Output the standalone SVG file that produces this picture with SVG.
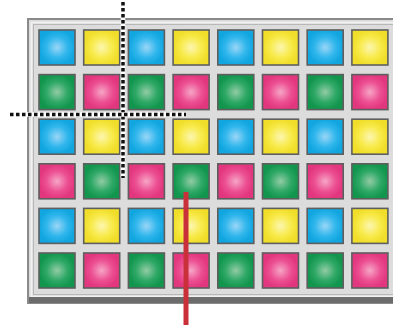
<svg xmlns="http://www.w3.org/2000/svg" width="393" height="330" viewBox="0 0 393 330">
<defs>
<radialGradient id="gB"><stop offset="0" stop-color="#9ad6f7"/><stop offset="0.6" stop-color="#2fb6ec"/><stop offset="1" stop-color="#12a6e0"/></radialGradient>
<radialGradient id="gY"><stop offset="0" stop-color="#fcf6b0"/><stop offset="0.6" stop-color="#f8ea4a"/><stop offset="1" stop-color="#f0de2a"/></radialGradient>
<radialGradient id="gG"><stop offset="0" stop-color="#92cca4"/><stop offset="0.6" stop-color="#2ea866"/><stop offset="1" stop-color="#12964e"/></radialGradient>
<radialGradient id="gP"><stop offset="0" stop-color="#f6a6c6"/><stop offset="0.6" stop-color="#ec4f92"/><stop offset="1" stop-color="#e2367e"/></radialGradient>
</defs>
<style>
.sq{stroke:#5e5e5e;stroke-width:1.6}
.b{fill:url(#gB)}.y{fill:url(#gY)}.g{fill:url(#gG)}.p{fill:url(#gP)}
.dotw{stroke:#ffffff;stroke-width:4.5;fill:none}
.dotk{stroke:#111;stroke-width:3.5;stroke-dasharray:3.5 2.5;fill:none}
</style>
<rect width="393" height="330" fill="#ffffff"/>
<g id="panel">
<rect x="28" y="19" width="380" height="284" fill="#dcdcdc" stroke="#8a8a8a" stroke-width="2"/>
<rect x="31.5" y="22.5" width="380" height="274" fill="none" stroke="#f2f2f2" stroke-width="1.5"/>
<rect x="33.5" y="24.5" width="380" height="270" fill="none" stroke="#b8b8b8" stroke-width="1"/>
<rect x="29" y="297" width="380" height="6" fill="#6c6c6c"/>
</g>
<g id="r1">
<rect id="n1-1" class="sq b" x="39" y="30" width="36" height="35"/>
<rect id="n1-2" class="sq y" x="83.7" y="30" width="36" height="35"/>
<rect id="n1-3" class="sq b" x="128.4" y="30" width="36" height="35"/>
<rect id="n1-4" class="sq y" x="173.1" y="30" width="36" height="35"/>
<rect id="n1-5" class="sq b" x="217.8" y="30" width="36" height="35"/>
<rect id="n1-6" class="sq y" x="262.5" y="30" width="36" height="35"/>
<rect id="n1-7" class="sq b" x="307.2" y="30" width="36" height="35"/>
<rect id="n1-8" class="sq y" x="351.9" y="30" width="36" height="35"/>
</g>
<g id="r2">
<rect id="n2-1" class="sq g" x="39" y="74.6" width="36" height="35"/>
<rect id="n2-2" class="sq p" x="83.7" y="74.6" width="36" height="35"/>
<rect id="n2-3" class="sq g" x="128.4" y="74.6" width="36" height="35"/>
<rect id="n2-4" class="sq p" x="173.1" y="74.6" width="36" height="35"/>
<rect id="n2-5" class="sq g" x="217.8" y="74.6" width="36" height="35"/>
<rect id="n2-6" class="sq p" x="262.5" y="74.6" width="36" height="35"/>
<rect id="n2-7" class="sq g" x="307.2" y="74.6" width="36" height="35"/>
<rect id="n2-8" class="sq p" x="351.9" y="74.6" width="36" height="35"/>
</g>
<g id="r3">
<rect id="n3-1" class="sq b" x="39" y="119.2" width="36" height="35"/>
<rect id="n3-2" class="sq y" x="83.7" y="119.2" width="36" height="35"/>
<rect id="n3-3" class="sq b" x="128.4" y="119.2" width="36" height="35"/>
<rect id="n3-4" class="sq y" x="173.1" y="119.2" width="36" height="35"/>
<rect id="n3-5" class="sq b" x="217.8" y="119.2" width="36" height="35"/>
<rect id="n3-6" class="sq y" x="262.5" y="119.2" width="36" height="35"/>
<rect id="n3-7" class="sq b" x="307.2" y="119.2" width="36" height="35"/>
<rect id="n3-8" class="sq y" x="351.9" y="119.2" width="36" height="35"/>
</g>
<g id="r4">
<rect id="n4-1" class="sq p" x="39" y="163.8" width="36" height="35"/>
<rect id="n4-2" class="sq g" x="83.7" y="163.8" width="36" height="35"/>
<rect id="n4-3" class="sq p" x="128.4" y="163.8" width="36" height="35"/>
<rect id="n4-4" class="sq g" x="173.1" y="163.8" width="36" height="35"/>
<rect id="n4-5" class="sq p" x="217.8" y="163.8" width="36" height="35"/>
<rect id="n4-6" class="sq g" x="262.5" y="163.8" width="36" height="35"/>
<rect id="n4-7" class="sq p" x="307.2" y="163.8" width="36" height="35"/>
<rect id="n4-8" class="sq g" x="351.9" y="163.8" width="36" height="35"/>
</g>
<g id="r5">
<rect id="n5-1" class="sq b" x="39" y="208.4" width="36" height="35"/>
<rect id="n5-2" class="sq y" x="83.7" y="208.4" width="36" height="35"/>
<rect id="n5-3" class="sq b" x="128.4" y="208.4" width="36" height="35"/>
<rect id="n5-4" class="sq y" x="173.1" y="208.4" width="36" height="35"/>
<rect id="n5-5" class="sq b" x="217.8" y="208.4" width="36" height="35"/>
<rect id="n5-6" class="sq y" x="262.5" y="208.4" width="36" height="35"/>
<rect id="n5-7" class="sq b" x="307.2" y="208.4" width="36" height="35"/>
<rect id="n5-8" class="sq y" x="351.9" y="208.4" width="36" height="35"/>
</g>
<g id="r6">
<rect id="n6-1" class="sq g" x="39" y="253" width="36" height="35"/>
<rect id="n6-2" class="sq p" x="83.7" y="253" width="36" height="35"/>
<rect id="n6-3" class="sq g" x="128.4" y="253" width="36" height="35"/>
<rect id="n6-4" class="sq p" x="173.1" y="253" width="36" height="35"/>
<rect id="n6-5" class="sq g" x="217.8" y="253" width="36" height="35"/>
<rect id="n6-6" class="sq p" x="262.5" y="253" width="36" height="35"/>
<rect id="n6-7" class="sq g" x="307.2" y="253" width="36" height="35"/>
<rect id="n6-8" class="sq p" x="351.9" y="253" width="36" height="35"/>
</g>
<g id="connectors">
<line class="dotw" x1="123" y1="2" x2="123" y2="178"/>
<line class="dotk" x1="123" y1="2" x2="123" y2="178"/>
<line class="dotw" x1="10" y1="114.5" x2="186" y2="114.5"/>
<line class="dotk" x1="10" y1="114.5" x2="186" y2="114.5"/>
<line x1="186" y1="192" x2="186" y2="325" stroke="#c9303a" stroke-width="5"/>
</g>
</svg>
